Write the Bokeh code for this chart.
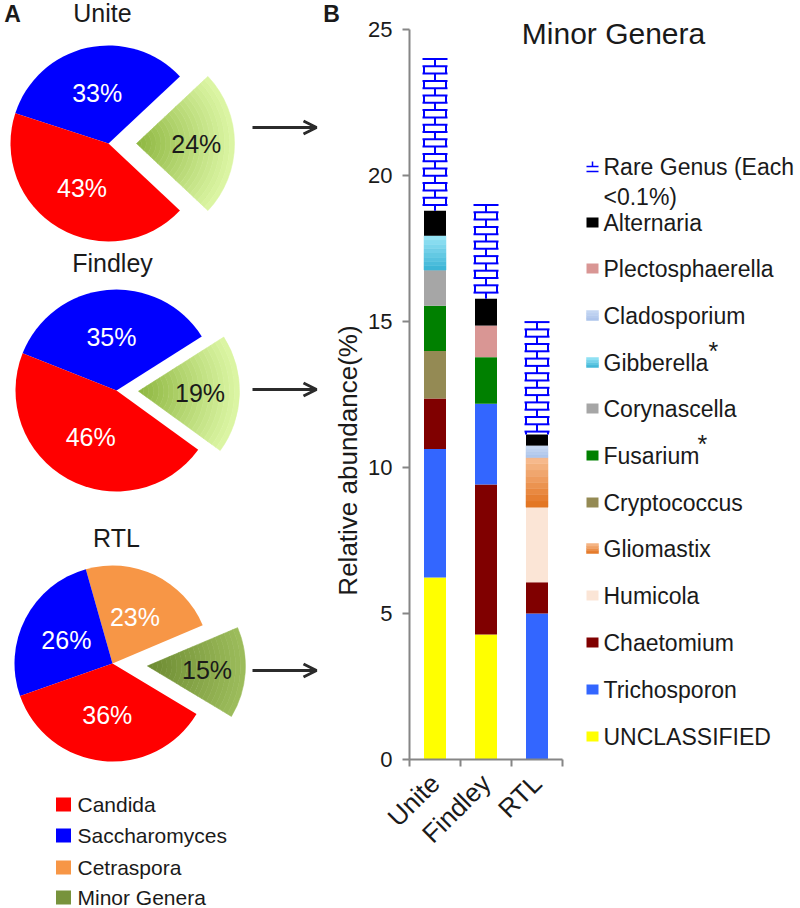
import numpy as np
from math import pi, cos, sin, radians
from bokeh.plotting import figure
from bokeh.models import Range1d, FixedTicker, Arrow, OpenHead, LinearAxis
from bokeh.embed import file_html
from bokeh.resources import INLINE
from bokeh.core.properties import value

# ---------------- data ----------------
sites = ["Unite", "Findley", "RTL"]

# panel A: major genera (% of reads)
pie_genera = ["Candida", "Saccharomyces", "Cetraspora", "Minor Genera"]
candida = [43, 46, 36]
saccharomyces = [33, 35, 26]
cetraspora = [0, 0, 23]
minor_genera = [24, 19, 15]

# panel B: minor genera (relative abundance %)
genera = ["UNCLASSIFIED", "Trichosporon", "Chaetomium", "Humicola", "Gliomastix",
          "Cryptococcus", "Fusarium", "Corynascella", "Gibberella", "Cladosporium",
          "Plectosphaerella", "Alternaria", "Rare Genus"]
unclassified = [6.24, 4.29, 0.0]
trichosporon = [4.40, 2.76, 5.01]
chaetomium = [1.73, 5.14, 1.07]
humicola = [0.0, 0.0, 2.57]
gliomastix = [0.0, 0.0, 1.70]
cryptococcus = [1.63, 0.0, 0.0]
fusarium = [1.55, 1.60, 0.0]
corynascella = [1.22, 0.0, 0.0]
gibberella = [1.18, 0.0, 0.0]
cladosporium = [0.0, 0.0, 0.41]
plectosphaerella = [0.0, 1.08, 0.0]
alternaria = [0.85, 0.92, 0.38]
rare_genus = [5.20, 3.21, 3.85]

y_ticks = [0, 5, 10, 15, 20, 25]

values = dict(zip(genera, [unclassified, trichosporon, chaetomium, humicola, gliomastix,
                           cryptococcus, fusarium, corynascella, gibberella, cladosporium,
                           plectosphaerella, alternaria, rare_genus]))
# stacking order (bottom -> top); Findley has Chaetomium below Trichosporon
stack_order = {
    "Unite": genera,
    "Findley": ["UNCLASSIFIED", "Chaetomium", "Trichosporon"] + genera[3:],
    "RTL": genera,
}

# ---------------- styles ----------------
FONT = "Liberation Sans"
TXT = "#1a1a1a"
pie_colors = {"Candida": "#FF0000", "Saccharomyces": "#0000FF",
              "Cetraspora": "#F79646", "Minor Genera": "#77933C"}
bar_colors = {"UNCLASSIFIED": "#FFFF00", "Trichosporon": "#3366FF", "Chaetomium": "#800000",
              "Humicola": "#FBE5D6", "Gliomastix": ("#F7BE93", "#E2711C"),
              "Cryptococcus": "#948A54", "Fusarium": "#008000", "Corynascella": "#A6A6A6",
              "Gibberella": ("#9BE6F7", "#38B2D4"), "Cladosporium": ("#C8D9F3", "#A9C1EA"),
              "Plectosphaerella": "#D99694", "Alternaria": "#000000", "Rare Genus": "#0000FF"}


def hex2rgb(h):
    h = h.lstrip("#")
    return np.array([int(h[i:i + 2], 16) for i in (0, 2, 4)], dtype=float)


def blend(c0, c1, t):
    c = hex2rgb(c0) * (1 - t) + hex2rgb(c1) * t
    return "#%02x%02x%02x" % tuple(int(round(v)) for v in c)


W, H = 800, 908
# bar-chart scale (panel B)
AXIS_X, AXIS_Y = 409.0, 759.3   # pixel position of the bar-chart origin
PPX, PPY = 51.0, 29.2           # px per category / px per % unit

p = figure(width=W, height=H, x_range=Range1d(0, W), y_range=Range1d(0, H),
           output_backend="svg", toolbar_location=None, min_border=0,
           x_axis_location=None, y_axis_location=None)
p.grid.visible = False
p.outline_line_color = None
p.extra_x_ranges = {"bx": Range1d(-AXIS_X / PPX, (W - AXIS_X) / PPX)}
p.extra_y_ranges = {"by": Range1d((AXIS_Y - H) / PPY, AXIS_Y / PPY)}


def X(px):
    return px


def Y(py):
    return H - py


# ================= Panel A (pies) =================
pie_center = {"Unite": (108, 143), "Findley": (116, 390), "RTL": (112, 663)}
pie_radius = {"Unite": 98, "Findley": 101, "RTL": 98}
pie_start = {"Unite": -43.2, "Findley": -36.0, "RTL": -31.0}
pie_explode = {"Unite": 28, "Findley": 22, "RTL": 35}
pie_title_pos = {"Unite": (102, 12), "Findley": (112, 262), "RTL": (116, 537)}
green_grad = {"Unite": ("#8DB63F", "#DDF7A6"), "Findley": ("#8DB63F", "#DDF7A6"),
              "RTL": ("#6C8A31", "#9DBD5C")}
arrow_y = {"Unite": 127, "Findley": 389, "RTL": 670}

pie_vals = {"Candida": candida, "Saccharomyces": saccharomyces,
            "Cetraspora": cetraspora, "Minor Genera": minor_genera}
ccw_order = ["Minor Genera", "Cetraspora", "Saccharomyces", "Candida"]

for i, s in enumerate(sites):
    cxp, cyp = pie_center[s]
    R = pie_radius[s]
    ang = radians(pie_start[s])
    for g in ccw_order:
        v = pie_vals[g][i]
        if v <= 0:
            continue
        a0, a1 = ang, ang + radians(v * 3.6)
        mid = (a0 + a1) / 2
        if g == "Minor Genera":
            ox = X(cxp) + pie_explode[s] * cos(mid)
            oy = Y(cyp) + pie_explode[s] * sin(mid)
            c0, c1 = green_grad[s]
            n = 20
            for k in range(n):
                col = blend(c0, c1, (k + 0.5) / n)
                p.annular_wedge(x=ox, y=oy, inner_radius=R * k / n, outer_radius=R * (k + 1) / n,
                                start_angle=a0, end_angle=a1,
                                fill_color=col, line_color=col, line_width=0.6)
            p.text(x=[ox + 0.61 * R * cos(mid)], y=[oy + 0.61 * R * sin(mid)],
                   text=["%d%%" % v], text_color=TXT, text_font=value(FONT),
                   text_font_size="25px", text_align="center", text_baseline="middle")
        else:
            p.wedge(x=X(cxp), y=Y(cyp), radius=R, start_angle=a0, end_angle=a1,
                    fill_color=pie_colors[g], line_color=None)
            p.text(x=[X(cxp) + 0.53 * R * cos(mid)], y=[Y(cyp) + 0.53 * R * sin(mid)],
                   text=["%d%%" % v], text_color="white", text_font=value(FONT),
                   text_font_size="25px", text_align="center", text_baseline="middle")
        ang = a1
    tx, ty = pie_title_pos[s]
    p.text(x=[X(tx)], y=[Y(ty)], text=[s], text_color=TXT, text_font=value(FONT),
           text_font_size="25px", text_align="center", text_baseline="middle")
    ay = arrow_y[s]
    p.add_layout(Arrow(end=OpenHead(size=13, line_width=3, line_color="#2b2b2b"),
                       x_start=X(252), y_start=Y(ay), x_end=X(316), y_end=Y(ay),
                       line_width=3, line_color="#2b2b2b"))

p.text(x=[X(12)], y=[Y(13)], text=["A"], text_color=TXT, text_font=value(FONT),
       text_font_size="23px", text_font_style="bold", text_align="center", text_baseline="middle")

# pie legend
leg_y = [804, 835, 867, 897]
for g, ly in zip(pie_genera, leg_y):
    p.rect(x=[X(63)], y=[Y(ly)], width=15, height=14, fill_color=pie_colors[g], line_color=None)
    p.text(x=[X(77)], y=[Y(ly)], text=[g], text_color=TXT, text_font=value(FONT),
           text_font_size="21px", text_align="left", text_baseline="middle")

# ================= Panel B (stacked bars) =================
AX = "#868686"
yax = LinearAxis(x_range_name="bx", y_range_name="by", fixed_location=0,
                 ticker=FixedTicker(ticks=y_ticks), bounds=(0, 25))
yax.major_tick_out = 7
yax.major_tick_in = 0
yax.minor_tick_line_color = None
yax.major_label_text_font_size = "22px"
yax.major_label_text_font = FONT
yax.major_label_text_color = TXT
yax.major_label_standoff = 10

xs = [i + 0.5 for i in range(len(sites))]
xax = LinearAxis(x_range_name="bx", y_range_name="by", fixed_location=0,
                 ticker=FixedTicker(ticks=xs, minor_ticks=list(range(len(sites) + 1))),
                 bounds=(0, len(sites)))
xax.major_label_overrides = {x: s for x, s in zip(xs, sites)}
xax.major_label_orientation = pi / 4
xax.major_tick_out = 0
xax.major_tick_in = 0
xax.minor_tick_out = 7
xax.minor_tick_in = 0
xax.minor_tick_line_color = AX
xax.minor_tick_line_width = 2
xax.major_label_text_font_size = "26px"
xax.major_label_text_font = FONT
xax.major_label_text_color = TXT
xax.major_label_standoff = 12
for ax in (xax, yax):
    ax.axis_line_color = AX
    ax.axis_line_width = 2
    ax.major_tick_line_color = AX
    ax.major_tick_line_width = 2
p.add_layout(yax, "left")
p.add_layout(xax, "below")

BW = 22 / PPX
RN = dict(x_range_name="bx", y_range_name="by")
for i, s in enumerate(sites):
    xc = xs[i]
    base = 0.0
    for g in stack_order[s]:
        v = values[g][i]
        if v <= 0:
            continue
        b, t = base, base + v
        col = bar_colors[g]
        if g == "Rare Genus":
            h = 0.25
            ys = t - h * np.arange(int(np.floor((t - b) / h + 1e-6)) + 1)
            xl, xr = xc - BW / 2, xc + BW / 2
            ov = 1.5 / PPX
            p.segment(x0=xl - ov, y0=ys, x1=xr + ov, y1=ys, line_color=col, line_width=2, **RN)
            bnds = list(ys) + ([b] if ys[-1] - b > 1e-6 else [])
            vx0, vy0, vy1 = [], [], []
            for k in range(len(bnds) - 1):
                cols = [xc] if k % 2 == 0 else [xl, xr]
                for cx in cols:
                    vx0.append(cx)
                    vy0.append(bnds[k])
                    vy1.append(bnds[k + 1])
            p.segment(x0=vx0, y0=vy0, x1=vx0, y1=vy1, line_color=col, line_width=2, **RN)
        elif isinstance(col, tuple):
            n = 8
            edges = np.linspace(b, t, n + 1)
            for k in range(n):
                c = blend(col[1], col[0], (k + 0.5) / n)
                p.vbar(x=[xc], bottom=[edges[k]], top=[edges[k + 1]], width=BW,
                       fill_color=c, line_color=c, line_width=0.5, **RN)
        else:
            p.vbar(x=[xc], bottom=[b], top=[t], width=BW, fill_color=col, line_color=None, **RN)
        base = t

# y-axis title, panel letter and chart title (pixel coordinates)
p.text(x=[X(347)], y=[Y(460)], text=["Relative abundance(%)"], angle=pi / 2,
       text_color=TXT, text_font=value(FONT), text_font_size="26px",
       text_align="center", text_baseline="middle")
p.text(x=[X(331)], y=[Y(13)], text=["B"], text_color=TXT, text_font=value(FONT),
       text_font_size="23px", text_font_style="bold", text_align="center", text_baseline="middle")
p.text(x=[X(613)], y=[Y(33)], text=["Minor Genera"], text_color=TXT, text_font=value(FONT),
       text_font_size="30px", text_align="center", text_baseline="middle")

# legend (top -> bottom), pixel coordinates
leg_rows = {"Rare Genus": 166, "Alternaria": 222, "Plectosphaerella": 268, "Cladosporium": 315,
            "Gibberella": 362, "Corynascella": 408, "Fusarium": 455, "Cryptococcus": 502,
            "Gliomastix": 548, "Humicola": 595, "Chaetomium": 642, "Trichosporon": 689,
            "UNCLASSIFIED": 736}
LFS = "23px"
for g, ly in leg_rows.items():
    col = bar_colors[g]
    if g == "Rare Genus":
        p.segment(x0=[X(586), X(592), X(586)], y0=[Y(ly), Y(ly - 5), Y(ly + 5)],
                  x1=[X(598), X(592), X(598)], y1=[Y(ly), Y(ly), Y(ly + 5)],
                  line_color=col, line_width=1.5)
        p.text(x=[X(603), X(603)], y=[Y(ly), Y(ly + 30)], text=["Rare Genus (Each", "<0.1%)"],
               text_color=TXT, text_font=value(FONT), text_font_size=LFS,
               text_align="left", text_baseline="middle")
        continue
    if isinstance(col, tuple):
        n = 4
        for k in range(n):
            c = blend(col[1], col[0], (k + 0.5) / n)
            p.rect(x=[X(592)], y=[Y(ly + 5 - 10 * (k + 0.5) / n)], width=12, height=10 / n,
                   fill_color=c, line_color=c, line_width=0.5)
    else:
        p.rect(x=[X(592)], y=[Y(ly)], width=12, height=10, fill_color=col, line_color=None)
    p.text(x=[X(603)], y=[Y(ly)], text=[g], text_color=TXT, text_font=value(FONT),
           text_font_size=LFS, text_align="left", text_baseline="middle")

# significance asterisks
p.text(x=[X(708), X(697)], y=[Y(350), Y(443)], text=["*", "*"], text_color=TXT,
       text_font=value(FONT), text_font_size="25px", text_align="left", text_baseline="middle")

open("out.html", "w").write(file_html(p, INLINE))
